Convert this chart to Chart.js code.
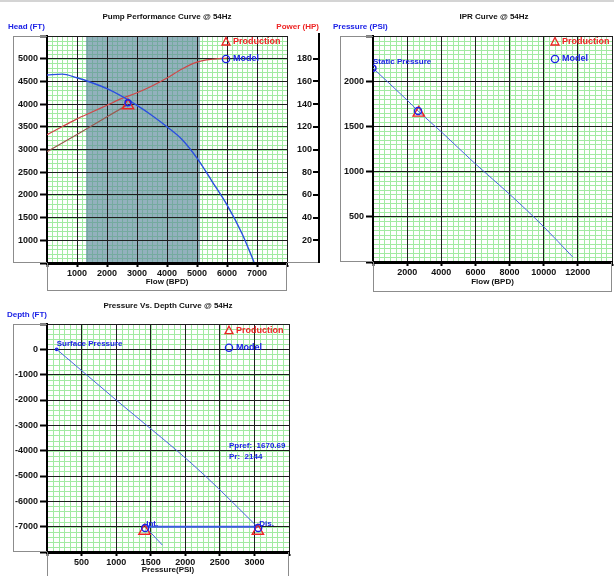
<!DOCTYPE html>
<html>
<head>
<meta charset="utf-8">
<title>Pump / IPR / Depth curves @ 54Hz</title>
<script src="https://cdn.jsdelivr.net/npm/chart.js@4.4.1/dist/chart.umd.min.js"></script>
<style>
    html, body { margin: 0; padding: 0; background: #fff; overflow: hidden; width: 614px; height: 576px; }
    .topbar { position: absolute; left: 0; top: 0; width: 614px; height: 2px; background: #d4d4d4; }
    canvas { position: absolute; }
    #pump { left: 0; top: 0; }
    #ipr { left: 330px; top: 0; }
    #depth { left: 0; top: 290px; }
</style>
</head>
<body>
<div class="topbar"></div>
<canvas id="pump" width="330" height="300" style="width:330px;height:300px"></canvas>
<canvas id="ipr" width="300" height="300" style="width:300px;height:300px"></canvas>
<canvas id="depth" width="330" height="286" style="width:330px;height:286px"></canvas>
<script>
// ---- pump performance curve
const pumpFlow = [0, 500, 1000, 1500, 2000, 2500, 3000, 3500, 4000, 4500, 5000, 5500, 6000, 6500, 6900];
const pumpHead = [4640, 4660, 4580, 4470, 4340, 4170, 3970, 3750, 3500, 3220, 2810, 2300, 1780, 1150, 520];
const powerFlow = [0, 500, 1000, 1500, 2000, 2500, 3000, 3500, 4000, 4500, 5000, 5500, 6000];
const powerHP = [113, 120, 127, 133, 139, 145, 150, 156, 163, 171, 177, 179.5, 180.5];
const systemFlow = [0, 1000, 2000, 2700];
const systemHead = [2950, 3330, 3720, 3990];
const operatingRange = [1300, 5100];
const pumpProductionPt = [2700, 3970];
const pumpModelPt = [2700, 4030];

// ---- IPR curve
const iprFlow = [0, 2000, 2640, 4000, 6000, 8000, 10000, 11700];
const iprPressure = [2144, 1790, 1671, 1440, 1085, 750, 390, 55];
const staticPressurePt = [0, 2144];
const iprProductionPt = [2680, 1650];
const iprModelPt = [2640, 1671];

// ---- pressure vs depth
const gradPressure = [140, 570, 1000, 1440, 1880, 2290, 2670, 3040];
const gradDepth = [0, -1000, -2000, -3000, -4000, -5000, -6000, -7000];
const pumpPressure = [1420, 3060];
const pumpDepth = [-7000, -7000];
const intakePressure = [1420, 1670];
const intakeDepth = [-7000, -7730];
const surfacePt = [140, 0];
const intakePt = [1420, -7050];
const dischargePt = [3055, -7050];
const depthProdPressure = [1410, 3050];
const depthProdDepth = [-7170, -7170];
const ppref = '1670.69';
const pr = '2144';

const BLUE = '#1c22e6';
const RED = '#ee2424';
const FONT = "'Liberation Sans', Arial, sans-serif";

Chart.defaults.font.family = FONT;
Chart.defaults.font.size = 8;
Chart.defaults.font.weight = 'bold';
Chart.defaults.color = '#111';

const pairs = (xs, ys) => xs.map((x, i) => ({x: x, y: ys[i]}));
const hideEnds = (lo, hi) => (v) => (v === lo || v === hi) ? '' : String(v);

function line(data, color, width, yAxisID) {
    return {data: data, borderColor: color, borderWidth: width, pointRadius: 0, showLine: true,
        cubicInterpolationMode: 'monotone', yAxisID: yAxisID || 'y'};
}
function marker(data, style, color, radius) {
    return {data: data, showLine: false, pointStyle: style, pointRadius: radius,
        pointBorderColor: color, pointBackgroundColor: 'rgba(0,0,0,0)', pointBorderWidth: 1.4};
}

function text(ctx, s, x, y, color, align, size) {
    ctx.fillStyle = color;
    ctx.textAlign = align || 'left';
    ctx.textBaseline = 'middle';
    ctx.font = 'bold ' + (size || 8) + 'px ' + FONT;
    ctx.fillText(s, x, y);
}

const decor = {
    id: 'decor',
    beforeDraw(chart, args, o) {
        const {ctx, chartArea: a, scales} = chart;
        const xs = scales.x, ys = scales.y;
        ctx.save();
        ctx.strokeStyle = '#a2eaa2';
        ctx.lineWidth = 1;
        ctx.beginPath();
        const nx = Math.round((xs.max - xs.min) / o.majorX) * o.minorX;
        for (let i = 0; i <= nx; i++) {
            const p = Math.round(xs.getPixelForValue(xs.min + i * (xs.max - xs.min) / nx)) + 0.5;
            ctx.moveTo(p, a.top); ctx.lineTo(p, a.bottom);
        }
        const ny = Math.round((ys.max - ys.min) / o.majorY) * o.minorY;
        for (let i = 0; i <= ny; i++) {
            const p = Math.round(ys.getPixelForValue(ys.min + i * (ys.max - ys.min) / ny)) + 0.5;
            ctx.moveTo(a.left, p); ctx.lineTo(a.right, p);
        }
        ctx.stroke();
        if (o.shade) {
            const l = xs.getPixelForValue(o.shade[0]), r = xs.getPixelForValue(o.shade[1]);
            ctx.fillStyle = 'rgba(96,140,158,0.68)';
            ctx.fillRect(l, a.top, r - l, a.bottom - a.top);
        }
        ctx.restore();
    },
    afterDraw(chart, args, o) {
        const {ctx, chartArea: a, scales} = chart;
        ctx.save();
        // frame round the plot and the box under the x axis
        ctx.strokeStyle = '#8c8c8c';
        ctx.lineWidth = 1;
        ctx.beginPath();
        ctx.moveTo(o.frameLeft + 0.5, a.top); ctx.lineTo(o.frameLeft + 0.5, a.bottom);
        ctx.moveTo(o.frameLeft, a.top + 0.5); ctx.lineTo(a.left, a.top + 0.5);
        ctx.moveTo(o.frameLeft, a.bottom - 0.5); ctx.lineTo(a.left, a.bottom - 0.5);
        ctx.moveTo(a.left + 0.5, a.bottom); ctx.lineTo(a.left + 0.5, o.boxBottom);
        ctx.moveTo(a.left, o.boxBottom + 0.5); ctx.lineTo(a.right, o.boxBottom + 0.5);
        ctx.moveTo(a.right - 0.5, a.bottom); ctx.lineTo(a.right - 0.5, o.boxBottom);
        if (o.rightAxisX) {
            ctx.moveTo(a.right, a.bottom - 0.5); ctx.lineTo(o.rightAxisX, a.bottom - 0.5);
        }
        ctx.stroke();
        // right-hand axis line with inward ticks
        if (o.rightAxisX) {
            const s = scales.y2;
            ctx.strokeStyle = '#000';
            ctx.lineWidth = 2;
            ctx.beginPath();
            ctx.moveTo(o.rightAxisX, a.top - 3); ctx.lineTo(o.rightAxisX, a.bottom);
            s.ticks.forEach((t) => {
                if (t.value === s.min || t.value === s.max) return;
                const p = Math.round(s.getPixelForValue(t.value));
                ctx.moveTo(o.rightAxisX - 6, p); ctx.lineTo(o.rightAxisX, p);
            });
            ctx.stroke();
        }
        // titles
        (o.texts || []).forEach((t) => text(ctx, t.s, t.x, t.y, t.color, t.align));
        // labels tied to data points
        (o.pointLabels || []).forEach((t) => {
            text(ctx, t.s, scales.x.getPixelForValue(t.pt[0]) + t.dx, scales.y.getPixelForValue(t.pt[1]) + t.dy, BLUE);
        });
        // in-plot legend
        const lx = a.right + o.legendDx;
        const ly1 = a.top + o.legendDy, ly2 = ly1 + 17;
        ctx.lineWidth = 1.3;
        ctx.strokeStyle = RED;
        ctx.beginPath();
        ctx.moveTo(lx, ly1 - 4.5); ctx.lineTo(lx + 4, ly1 + 3); ctx.lineTo(lx - 4, ly1 + 3); ctx.closePath();
        ctx.stroke();
        ctx.strokeStyle = BLUE;
        ctx.beginPath();
        ctx.arc(lx, ly2, 3.6, 0, Math.PI * 2);
        ctx.stroke();
        text(ctx, 'Production', lx + 7, ly1, RED, 'left', 9);
        text(ctx, 'Model', lx + 7, ly2, BLUE, 'left', 9);
        ctx.restore();
    }
};

function axisX(min, max, step, height, title, titlePad) {
    return {
        type: 'linear', min: min, max: max,
        afterFit: (s) => { s.height = height; },
        ticks: {stepSize: step, padding: 1, maxRotation: 0, autoSkip: false, font: {size: 9}, callback: hideEnds(min, max)},
        grid: {color: '#1e1e1e', lineWidth: 1, tickLength: 4, tickColor: '#000', tickWidth: 2},
        border: {color: '#000', width: 3},
        title: {display: true, text: title, padding: {top: 0, bottom: titlePad}}
    };
}
function axisY(min, max, step, width) {
    return {
        type: 'linear', position: 'left', min: min, max: max,
        afterFit: (s) => { s.width = width; },
        ticks: {stepSize: step, padding: 2, autoSkip: false, font: {size: 9}, callback: hideEnds(min, max)},
        grid: {color: '#1e1e1e', lineWidth: 1, tickLength: 7, tickColor: '#000', tickWidth: 2},
        border: {color: '#000', width: 2}
    };
}
const baseOptions = (padding) => ({
    responsive: false, animation: false, devicePixelRatio: 1,
    layout: {padding: padding},
    plugins: {legend: {display: false}, tooltip: {enabled: false}}
});

// ---- chart 1: pump performance
const pumpOpts = baseOptions({left: 0, right: 18, top: 36, bottom: 0});
pumpOpts.scales = {
    x: axisX(0, 8000, 1000, 37, 'Flow (BPD)', 13),
    y: axisY(500, 5500, 500, 47),
    y2: {
        type: 'linear', position: 'right', min: 0, max: 200,
        afterFit: (s) => { s.width = 25; },
        ticks: {stepSize: 20, crossAlign: 'far', autoSkip: false, font: {size: 9}, callback: hideEnds(0, 200)},
        grid: {display: false, drawOnChartArea: false},
        border: {display: false}
    }
};
pumpOpts.plugins.decor = {
    majorX: 1000, minorX: 6, majorY: 500, minorY: 5, shade: operatingRange,
    frameLeft: 13, boxBottom: 290, rightAxisX: 319, legendDx: -61, legendDy: 6,
    texts: [
        {s: 'Pump Performance Curve @ 54Hz', x: 167, y: 17, color: '#111', align: 'center'},
        {s: 'Head (FT)', x: 8, y: 27, color: BLUE},
        {s: 'Power (HP)', x: 319, y: 27, color: RED, align: 'right'}
    ]
};
new Chart(document.getElementById('pump'), {
    type: 'scatter',
    data: {
        datasets: [
            marker([{x: pumpModelPt[0], y: pumpModelPt[1]}], 'circle', BLUE, 3),
            marker([{x: pumpProductionPt[0], y: pumpProductionPt[1]}], 'triangle', RED, 6.5),
            line(pairs(pumpFlow, pumpHead), '#2b4fe0', 1.4),
            line(pairs(powerFlow, powerHP), '#d04848', 1.2, 'y2'),
            line(pairs(systemFlow, systemHead), '#9a5a50', 1.2)
        ]
    },
    options: pumpOpts,
    plugins: [decor]
});

// ---- chart 2: IPR
const iprOpts = baseOptions({left: 0, right: 18, top: 36, bottom: 0});
iprOpts.scales = {
    x: axisX(0, 14000, 2000, 38, 'Flow (BPD)', 13),
    y: axisY(0, 2500, 500, 43)
};
iprOpts.plugins.decor = {
    majorX: 2000, minorX: 6, majorY: 500, minorY: 10,
    frameLeft: 10, boxBottom: 291, legendDx: -57, legendDy: 6,
    texts: [
        {s: 'IPR Curve @ 54Hz', x: 164, y: 17, color: '#111', align: 'center'},
        {s: 'Pressure (PSI)', x: 3, y: 27, color: BLUE}
    ],
    pointLabels: [{s: 'Static Pressure', pt: staticPressurePt, dx: 0, dy: -6}]
};
new Chart(document.getElementById('ipr'), {
    type: 'scatter',
    data: {
        datasets: [
            marker([{x: iprModelPt[0], y: iprModelPt[1]}], 'circle', BLUE, 3.5),
            marker([{x: staticPressurePt[0], y: staticPressurePt[1]}], 'circle', BLUE, 3),
            marker([{x: iprProductionPt[0], y: iprProductionPt[1]}], 'triangle', RED, 6.5),
            line(pairs(iprFlow, iprPressure), '#4a64e0', 1)
        ]
    },
    options: iprOpts,
    plugins: [decor]
});

// ---- chart 3: pressure vs depth
const depthOpts = baseOptions({left: 0, right: 41, top: 34, bottom: 0});
depthOpts.scales = {
    x: axisX(0, 3500, 500, 24, 'Pressure(PSI)', 1),
    y: axisY(-8000, 1000, 1000, 47)
};
depthOpts.plugins.decor = {
    majorX: 500, minorX: 6, majorY: 1000, minorY: 5,
    frameLeft: 13, boxBottom: 300, legendDx: -60, legendDy: 6.7,
    texts: [
        {s: 'Pressure Vs. Depth Curve @ 54Hz', x: 168, y: 16, color: '#111', align: 'center'},
        {s: 'Depth (FT)', x: 7, y: 25, color: BLUE},
        {s: 'Ppref:  ' + ppref, x: 229, y: 156, color: BLUE},
        {s: 'Pr:  ' + pr, x: 229, y: 166.5, color: BLUE}
    ],
    pointLabels: [
        {s: 'Surface Pressure', pt: surfacePt, dx: 0, dy: -6},
        {s: 'Int.', pt: intakePt, dx: 1, dy: -4},
        {s: 'Dis.', pt: dischargePt, dx: 1, dy: -4}
    ]
};
new Chart(document.getElementById('depth'), {
    type: 'scatter',
    data: {
        datasets: [
            marker([{x: intakePt[0], y: intakePt[1]}, {x: dischargePt[0], y: dischargePt[1]}], 'circle', BLUE, 3.5),
            marker(pairs(depthProdPressure, depthProdDepth), 'triangle', RED, 6.5),
            line(pairs(pumpPressure, pumpDepth), '#3a5ae0', 2),
            line(pairs(intakePressure, intakeDepth), '#4a64e0', 1),
            line(pairs(gradPressure, gradDepth), '#4a64e0', 1),
            marker([{x: surfacePt[0], y: surfacePt[1]}], 'circle', BLUE, 1.2)
        ]
    },
    options: depthOpts,
    plugins: [decor]
});
</script>
</body>
</html>
